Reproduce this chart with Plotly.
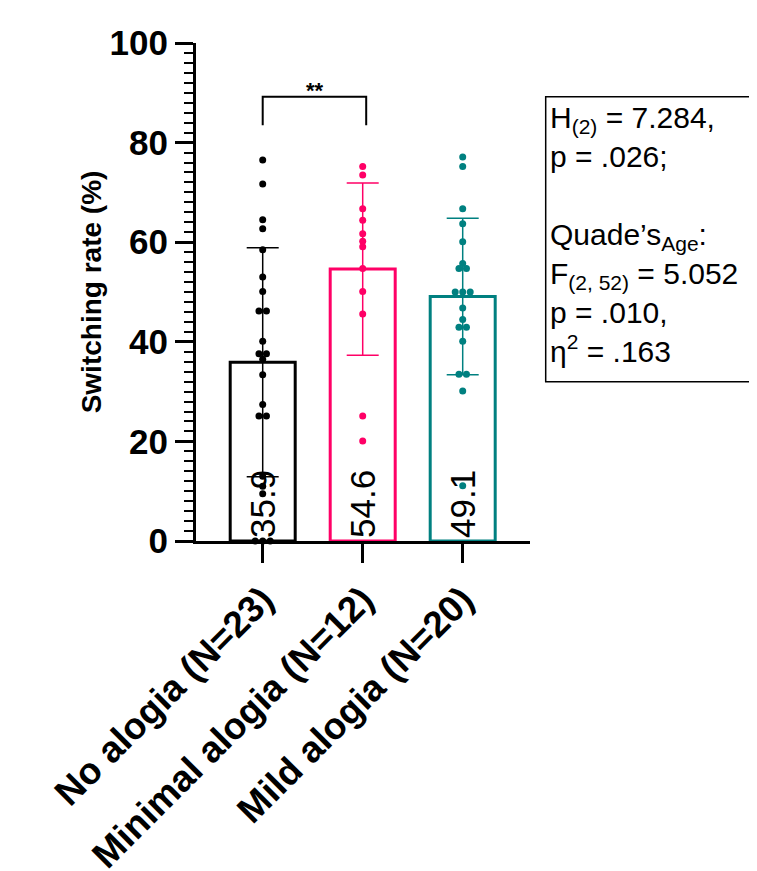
import plotly.graph_objects as go

categories = ["No alogia (N=23)", "Minimal alogia (N=12)", "Mild alogia (N=20)"]
means = [35.9, 54.6, 49.1]
sds = [23.0, 17.3, 15.7]
no_alogia = [76.5, 71.7, 64.5, 62.7, 58.5, 53.0, 50.1, 46.2, 46.2, 40.1, 37.6, 37.6,
             36.5, 33.4, 27.4, 25.1, 25.1, 13.0, 11.0, 9.5, 0.0, 0.0, 0.0]
minimal_alogia = [75.2, 73.5, 66.7, 64.4, 61.7, 60.2, 59.1, 54.7, 50.1, 45.6, 25.1, 20.1]
mild_alogia = [77.1, 75.2, 66.7, 63.7, 60.1, 55.7, 54.7, 54.7, 50.0, 50.0, 50.0, 46.8,
               44.5, 42.9, 42.9, 40.1, 33.5, 33.5, 30.1, 11.1]
stats_lines = ["H<sub>(2)</sub> = 7.284,", "p = .026;", "", "Quade’s<sub>Age</sub>:",
               "F<sub>(2, 52)</sub> = 5.052", "p = .010,", "η<sup>2</sup> = .163"]
sig_label = "**"

groups = [no_alogia, minimal_alogia, mild_alogia]
colors = ["#000000", "#FF0066", "#008080"]
FONT = "Liberation Sans, Arial, sans-serif"


def swarm_offsets(vals, step=0.075):
    # spread identical values symmetrically around the category centre
    counts = {}
    for v in vals:
        counts[v] = counts.get(v, 0) + 1
    seen = {}
    offs = []
    for v in vals:
        i = seen.get(v, 0)
        seen[v] = i + 1
        n = counts[v]
        offs.append((i - (n - 1) / 2) * step)
    return offs


fig = go.Figure()
for i, (m, sd, col) in enumerate(zip(means, sds, colors)):
    fig.add_trace(go.Bar(
        x=[i], y=[m], width=0.65,
        marker=dict(color="white", line=dict(color=col, width=3)),
        error_y=dict(type="data", array=[sd], color=col, thickness=1.5, width=16),
        text=[f"{m}"], textposition="inside", insidetextanchor="start", textangle=-90,
        textfont=dict(family=FONT, size=35, color="black"),
        showlegend=False,
    ))

for i, (vals, col) in enumerate(zip(groups, colors)):
    offs = swarm_offsets(vals)
    fig.add_trace(go.Scatter(
        x=[i + o for o in offs], y=vals, mode="markers",
        marker=dict(size=7, color=col), cliponaxis=False, showlegend=False,
    ))

# significance bracket
fig.add_shape(type="path", path="M 0,83.5 L 0,89.2 L 1.035,89.2 L 1.035,83.5",
              xref="x", yref="y", line=dict(color="black", width=2))
fig.add_annotation(x=0.52, y=90.4, xref="x", yref="y", text=f"<b>{sig_label}</b>",
                   showarrow=False, yanchor="middle",
                   font=dict(family=FONT, size=22, color="black"))

# stats box
fig.add_shape(type="rect", xref="paper", yref="paper", x0=1.047, x1=1.69,
              y0=0.32, y1=0.892, line=dict(color="black", width=1.5))
fig.add_annotation(xref="paper", yref="paper", x=1.054, y=0.887, xanchor="left",
                   yanchor="top", align="left", showarrow=False,
                   text="<br>".join(stats_lines),
                   font=dict(family=FONT, size=30, color="black"))

fig.update_layout(
    width=757, height=871,
    margin=dict(l=188, r=235, t=35, b=338, autoexpand=False),
    plot_bgcolor="white", paper_bgcolor="white",
    barmode="overlay",
    font=dict(family=FONT, color="black"),
    xaxis=dict(range=[-0.667, 2.673], tickvals=[0, 1, 2], ticktext=categories,
               tickangle=-45, ticks="outside", ticklen=19, tickwidth=3,
               tickcolor="black", showline=True, linewidth=3, linecolor="black",
               showgrid=False, zeroline=False, automargin=False,
               tickfont=dict(family=FONT, size=37, weight="bold", color="black")),
    yaxis=dict(range=[0, 100], dtick=20, ticks="outside", ticklen=18, tickwidth=3,
               tickcolor="black", showline=True, linewidth=3, linecolor="black",
               showgrid=False, zeroline=False, automargin=False,
               minor=dict(dtick=2, ticks="outside", ticklen=9, tickwidth=2,
                          tickcolor="black", showgrid=False),
               tickfont=dict(family=FONT, size=35, weight="bold", color="black"),
               title=dict(text="Switching rate (%)", standoff=0,
                          font=dict(family=FONT, size=28, weight="bold", color="black"))),
)

fig.write_html("out.html")
